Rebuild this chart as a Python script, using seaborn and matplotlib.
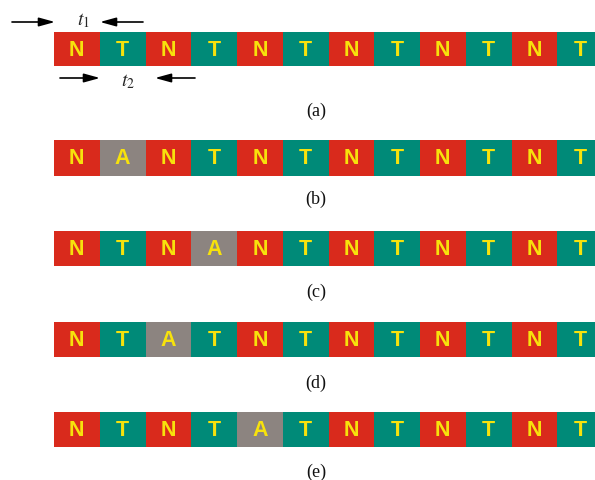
import numpy as np
import matplotlib
matplotlib.use("Agg")
import matplotlib.pyplot as plt
import seaborn as sns
from matplotlib.colors import ListedColormap

# sequences of slots shown in each row
row_a = ['N', 'T', 'N', 'T', 'N', 'T', 'N', 'T', 'N', 'T', 'N', 'T']
row_b = ['N', 'A', 'N', 'T', 'N', 'T', 'N', 'T', 'N', 'T', 'N', 'T']
row_c = ['N', 'T', 'N', 'A', 'N', 'T', 'N', 'T', 'N', 'T', 'N', 'T']
row_d = ['N', 'T', 'A', 'T', 'N', 'T', 'N', 'T', 'N', 'T', 'N', 'T']
row_e = ['N', 'T', 'N', 'T', 'A', 'T', 'N', 'T', 'N', 'T', 'N', 'T']
rows = [row_a, row_b, row_c, row_d, row_e]
row_labels = ['(a)', '(b)', '(c)', '(d)', '(e)']
letters = ['N', 'T', 'A']

slot_colors = ['#d92a1c', '#008a78', '#8c8480']
letter_color = '#f7e20c'

sns.set_theme(style="white")
plt.rcParams['font.family'] = ['Liberation Sans', 'DejaVu Sans']
plt.rcParams['mathtext.fontset'] = 'stix'

W, H = 595, 481
fig = plt.figure(figsize=(W / 100, H / 100), dpi=100)

# pixel positions of each strip (top, bottom) and its caption
strip_y = [(33, 67), (141, 177), (232, 267), (323, 358), (413, 448)]
label_y = [111, 199, 292, 383, 472]
x0, x1 = 54, 603

cmap = ListedColormap(slot_colors)
for seq, (top, bot) in zip(rows, strip_y):
    ax = fig.add_axes([x0 / W, 1 - bot / H, (x1 - x0) / W, (bot - top) / H])
    codes = np.array([[letters.index(s) for s in seq]])
    annot = np.array([seq])
    sns.heatmap(codes, ax=ax, cmap=cmap, vmin=-0.5, vmax=2.5, cbar=False,
                annot=annot, fmt='', linewidths=0,
                annot_kws={'color': letter_color, 'fontsize': 15.5,
                            'fontweight': 'bold'})
    ax.set_xticks([])
    ax.set_yticks([])

# overlay in pixel coordinates for captions and arrows
ov = fig.add_axes([0, 0, 1, 1], zorder=5)
ov.set_xlim(0, W)
ov.set_ylim(H, 0)
ov.axis('off')
ov.patch.set_alpha(0)

for lab, y in zip(row_labels, label_y):
    ov.text(316, y, lab, ha='center', va='center', fontsize=13,
            family='Liberation Serif', color='#111111')

arrow = dict(arrowstyle='-|>,head_length=0.8,head_width=0.22', color='black',
             lw=1.2, shrinkA=0, shrinkB=0)
ov.annotate('', xy=(55, 23), xytext=(12, 23), arrowprops=arrow)
ov.annotate('', xy=(100, 23), xytext=(143, 23), arrowprops=arrow)
ov.annotate('', xy=(100, 79), xytext=(60, 79), arrowprops=arrow)
ov.annotate('', xy=(155, 79), xytext=(195, 79), arrowprops=arrow)
ov.text(83, 21, '$t_1$', ha='center', va='center', fontsize=14)
ov.text(128, 82, '$t_2$', ha='center', va='center', fontsize=14)

fig.savefig('out.png', dpi=100)
